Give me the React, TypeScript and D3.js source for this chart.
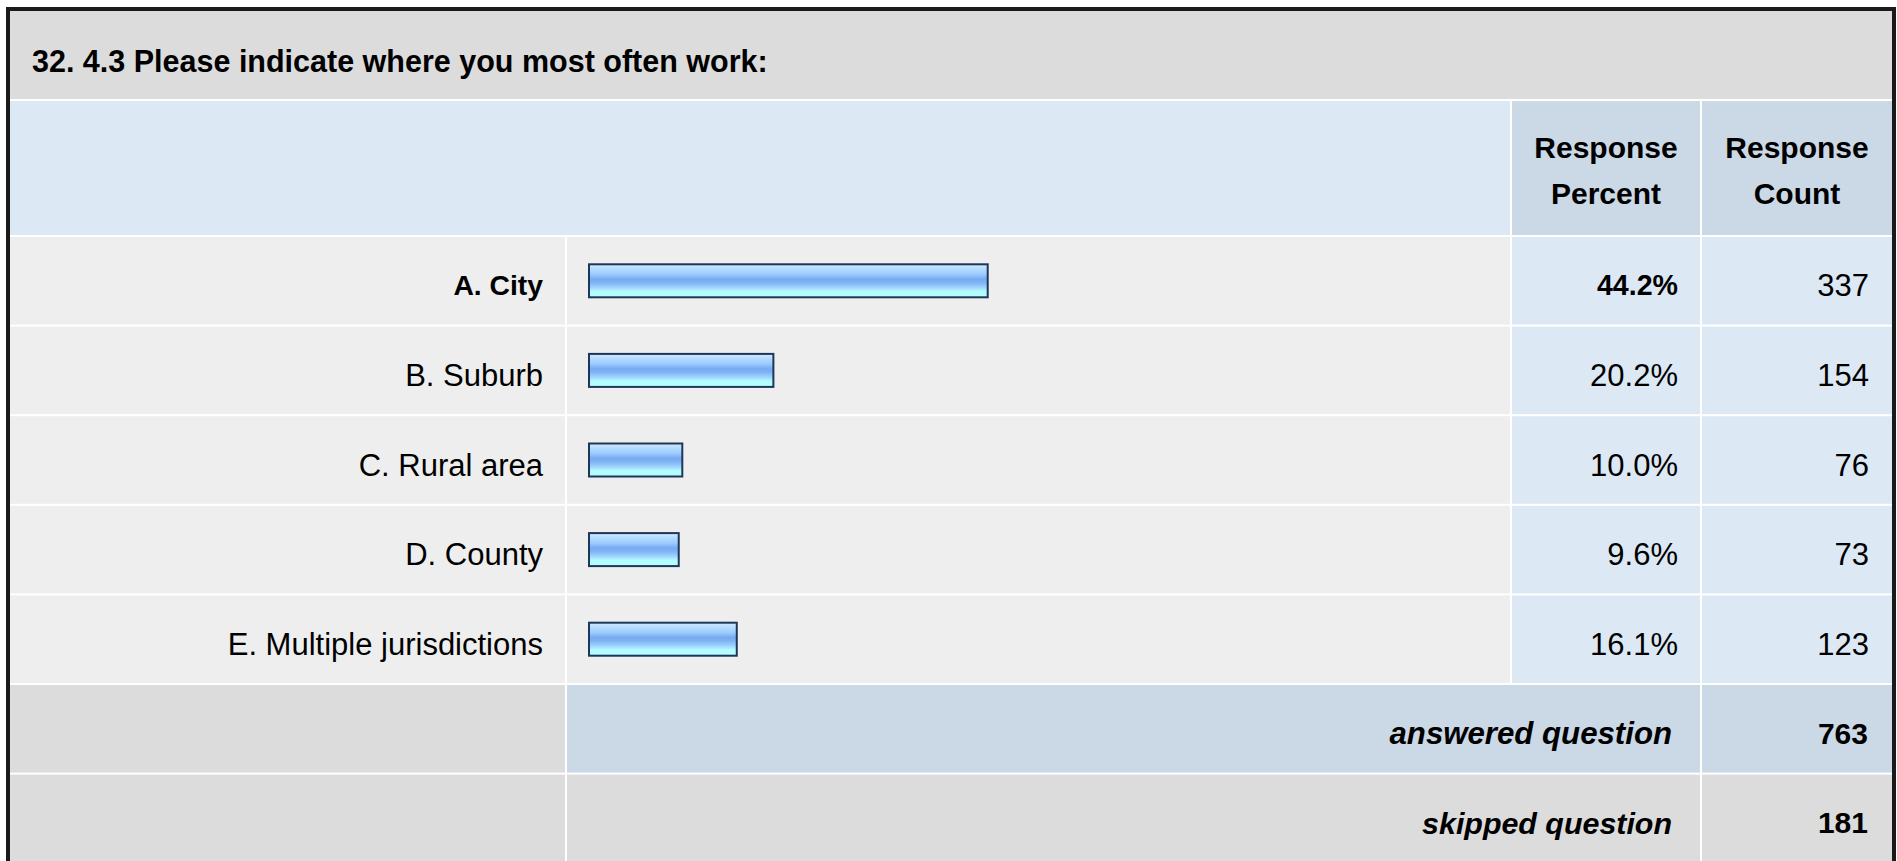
import React from "react";
import * as d3 from "d3";

const title = "32. 4.3 Please indicate where you most often work:";
const categories = ["A. City", "B. Suburb", "C. Rural area", "D. County", "E. Multiple jurisdictions"];
const percents = [44.2, 20.2, 10.0, 9.6, 16.1];
const counts = [337, 154, 76, 73, 123];
const headerPercent = ["Response", "Percent"];
const headerCount = ["Response", "Count"];
const summaryLabels = ["answered question", "skipped question"];
const summaryValues = [763, 181];

const W = 1897;
const H = 861;
const FONT = "'Liberation Sans', Arial, Helvetica, sans-serif";

export default function App() {
  const maxIdx = percents.indexOf(d3.max(percents) as number);
  // columns
  const left = 10, right = 1892;
  const colLabelEnd = 565, colBarStart = 567, colBarEnd = 1510, colPctStart = 1512, colPctEnd = 1700, colCntStart = 1702;
  const gap = 2;
  // rows
  const titleTop = 11, titleBottom = 99;
  const headTop = 101, headBottom = 235;
  const rowKeys = [...categories, ...summaryLabels];
  const y = d3.scaleBand<string>().domain(rowKeys).range([237, 237 + rowKeys.length * 89.6]).paddingInner(0);
  const rowH = y.bandwidth() - gap;

  const x = d3.scaleLinear().domain([0, 100]).range([0, 893]);
  const barX = 589;
  const barH = 33;
  const DY = "0.5em";

  return (
    <svg width={W} height={H} style={{ position: "absolute", left: 0, top: 0 }} fontFamily={FONT}>
      <defs>
        <linearGradient id="barGrad" x1="0" y1="0" x2="0" y2="1">
          <stop offset="0" stopColor="#d2eaff" />
          <stop offset="0.15" stopColor="#b3dbff" />
          <stop offset="0.3" stopColor="#9ccbff" />
          <stop offset="0.45" stopColor="#78aaf0" />
          <stop offset="0.55" stopColor="#7db3f3" />
          <stop offset="0.7" stopColor="#9fd2ff" />
          <stop offset="0.82" stopColor="#b2fbff" />
          <stop offset="1" stopColor="#b6ffff" />
        </linearGradient>
      </defs>
      <rect x={0} y={0} width={W} height={H} fill="#ffffff" />
      {/* title band */}
      <rect x={left} y={titleTop} width={right - left} height={titleBottom - titleTop} fill="#dcdcdc" />
      <text x={32} y={(titleTop + titleBottom) / 2} dy="0.55em" fontSize={30.5} fontWeight="bold" fill="#000">
        {title}
      </text>
      {/* header */}
      <rect x={left} y={headTop} width={colBarEnd - left} height={headBottom - headTop} fill="#dde8f5" />
      <rect x={colPctStart} y={headTop} width={colPctEnd - colPctStart} height={headBottom - headTop} fill="#cbd8e6" />
      <rect x={colCntStart} y={headTop} width={right - colCntStart} height={headBottom - headTop} fill="#cbd8e6" />
      {[headerPercent, headerCount].map((lines, i) => {
        const cx = i === 0 ? (colPctStart + colPctEnd) / 2 : (colCntStart + right) / 2;
        const mid = (headTop + headBottom) / 2;
        return lines.map((ln, j) => (
          <text key={`h${i}${j}`} x={cx} y={mid + (j - 0.5) * 46} dy="0.43em" textAnchor="middle" fontSize={30} fontWeight="bold" fill="#000">
            {ln}
          </text>
        ));
      })}
      {/* data rows */}
      {categories.map((c, i) => {
        const top = y(c) as number;
        const mid = top + rowH / 2;
        const bold = i === maxIdx;
        return (
          <g key={c}>
            <rect x={left} y={top} width={colLabelEnd - left} height={rowH} fill="#eeeeee" />
            <rect x={colBarStart} y={top} width={colBarEnd - colBarStart} height={rowH} fill="#eeeeee" />
            <rect x={colPctStart} y={top} width={colPctEnd - colPctStart} height={rowH} fill="#dde8f5" />
            <rect x={colCntStart} y={top} width={right - colCntStart} height={rowH} fill="#dde8f5" />
            <text x={543} y={mid} dy={DY} textAnchor="end" fontSize={bold ? 28.3 : 31} fontWeight={bold ? "bold" : "normal"} fill="#000">
              {c}
            </text>
            <rect
              x={barX}
              y={mid - barH / 2}
              width={x(percents[i]) + 4}
              height={barH}
              fill="url(#barGrad)"
              stroke="#1e3659"
              strokeWidth={2}
            />
            <text x={1678} y={mid} dy={DY} textAnchor="end" fontSize={bold ? 28.6 : 31} fontWeight={bold ? "bold" : "normal"} fill="#000">
              {percents[i].toFixed(1)}%
            </text>
            <text x={1869} y={mid} dy={DY} textAnchor="end" fontSize={31} fill="#000">
              {counts[i]}
            </text>
          </g>
        );
      })}
      {/* summary rows */}
      {summaryLabels.map((s, i) => {
        const top = y(s) as number;
        const mid = top + rowH / 2;
        const fill = i === 0 ? "#cbd8e6" : "#dcdcdc";
        const h = rowH + (i === 1 ? 10 : 0);
        return (
          <g key={s}>
            <rect x={left} y={top} width={colLabelEnd - left} height={h} fill="#dcdcdc" />
            <rect x={colBarStart} y={top} width={colPctEnd - colBarStart} height={h} fill={fill} />
            <rect x={colCntStart} y={top} width={right - colCntStart} height={h} fill={fill} />
            <text x={1672} y={mid} dy={DY} textAnchor="end" fontSize={i === 0 ? 31.2 : 30.4} fontWeight="bold" fontStyle="italic" fill="#000">
              {s}
            </text>
            <text x={1868} y={mid} dy={DY} textAnchor="end" fontSize={30} fontWeight="bold" fill="#000">
              {summaryValues[i]}
            </text>
          </g>
        );
      })}
      {/* outer border */}
      <rect x={8} y={9} width={1886} height={H + 20} fill="none" stroke="#1a1a1a" strokeWidth={4} />
    </svg>
  );
}
